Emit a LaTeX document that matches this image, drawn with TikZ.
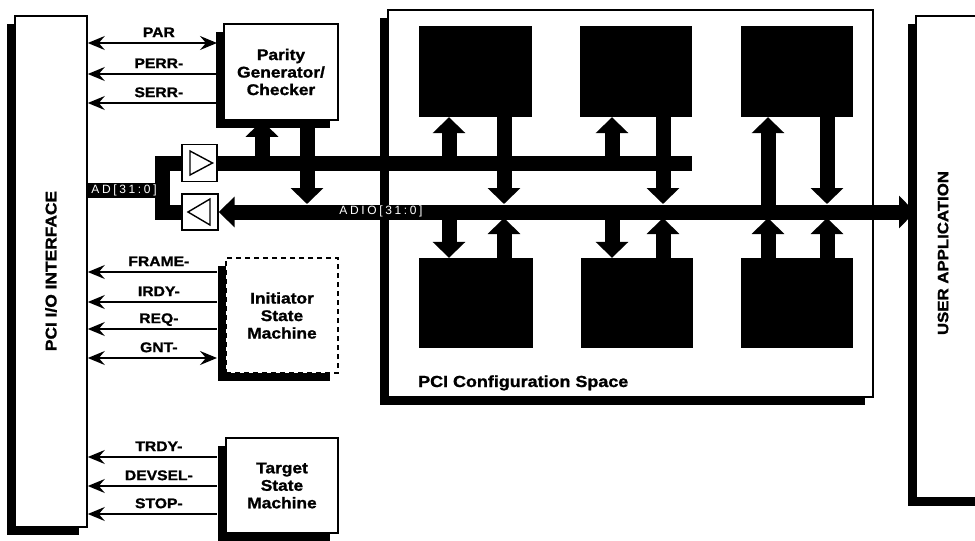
\documentclass[tikz,border=0pt]{standalone}
\usepackage{fontspec}
\setmainfont{Liberation Sans}[FakeStretch=1.12, BoldFeatures={FakeBold=1.3}]
\newfontfamily\busfont{Liberation Sans}[LetterSpace=22]
\usetikzlibrary{arrows.meta,shadows}
\begin{document}
\begin{tikzpicture}[x=1pt,y=-1pt,
  box/.style={draw, line width=1.6pt, fill=white, inner sep=0pt, align=center},
  shad/.style={general shadow={fill=black, shadow xshift=-8pt, shadow yshift=-8pt}},
  blk/.style={fill=black, inner sep=0pt},
  lab/.style={font=\fontsize{15.5}{17.5}\selectfont\bfseries},
  sig/.style={line width=1.7pt, -{Stealth[length=17pt,width=14pt,inset=6pt]}},
  sigd/.style={line width=1.7pt, {Stealth[length=17pt,width=14pt,inset=6pt]}-{Stealth[length=17pt,width=14pt,inset=6pt]}},
  siglab/.style={font=\fontsize{14}{16}\selectfont\bfseries, inner sep=0pt, text depth=0pt, above=5pt, pos=0.45},
  bus/.style={line width=15pt, line join=miter},
  vup/.style={line width=15pt, -{Triangle[length=16pt,width=32pt]}},
  lbus/.style={line width=15pt, {Triangle[length=16pt,width=30pt]}-{Triangle[length=16pt,width=32pt]}},
  buslab/.style={text=white, font=\busfont\fontsize{12}{14}\selectfont, inner sep=0pt}
]
\useasboundingbox (0,0) rectangle (975,541);
\clip (0,0) rectangle (975,541);

% main boxes
\node[box, shad, minimum width=485pt, minimum height=387pt] (cfg) at (630.5,203.5) {};
\node[font=\fontsize{16}{18}\selectfont\bfseries, anchor=base west, inner sep=0pt] (cfglab) at (418,387) {PCI Configuration Space};
\node[box, shad, minimum width=72pt, minimum height=511pt] (pci) at (51,271.5) {};
\node[rotate=90, font=\fontsize{15.5}{17}\selectfont\bfseries] (pcilab) at (51,271) {PCI I/O INTERFACE};
\node[box, shad, minimum width=90pt, minimum height=482pt, anchor=north west] (usr) at (915,15) {};
\node[rotate=90, font=\fontsize{15}{17}\selectfont\bfseries] (usrlab) at (943,253) {USER APPLICATION};

\node[box, shad, lab, minimum width=114pt, minimum height=96pt] (par) at (281,72) {Parity\\Generator/\\Checker};
\node[box, shad, lab, dash pattern=on 5pt off 4pt, minimum width=112pt, minimum height=115pt] (ism) at (282,315.5) {Initiator\\State\\Machine};
\node[box, shad, lab, minimum width=112pt, minimum height=95pt] (tsm) at (282,485.5) {Target\\State\\Machine};

% configuration blocks
\node[blk, minimum width=113pt, minimum height=91pt] (t1) at (475.5,71.5) {};
\node[blk, minimum width=112pt, minimum height=91pt] (t2) at (636,71.5) {};
\node[blk, minimum width=112pt, minimum height=91pt] (t3) at (797,71.5) {};
\node[blk, minimum width=114pt, minimum height=90pt] (b1) at (476,303) {};
\node[blk, minimum width=112pt, minimum height=90pt] (b2) at (637,303) {};
\node[blk, minimum width=112pt, minimum height=90pt] (b3) at (797,303) {};

% buffers
\node[box, line width=1.4pt, minimum width=35pt, minimum height=37pt] (bufo) at (199.5,163) {};
\node[box, line width=1.4pt, minimum width=36pt, minimum height=36pt] (bufi) at (200,212) {};
\draw[line width=1.4pt, line join=miter] ([shift={(-9.5,-12)}]bufo.center) -- ([shift={(13,0)}]bufo.center) -- ([shift={(-9.5,12)}]bufo.center) -- cycle;
\draw[line width=1.4pt, line join=miter] ([shift={(10,-13)}]bufi.center) -- ([shift={(-12,0)}]bufi.center) -- ([shift={(10,13)}]bufi.center) -- cycle;

% coordinates
\coordinate (ub) at (0,163);
\coordinate (lb) at (0,211);
\coordinate (lbt) at (0,204);
\coordinate (lbb) at (0,218);
\coordinate (adv) at (162.5,190);
\coordinate (c1a) at (449,0);
\coordinate (c1b) at (504,0);
\coordinate (c2a) at (612,0);
\coordinate (c2b) at (663,0);
\coordinate (c3a) at (768,0);
\coordinate (c3b) at (827,0);
\coordinate (pa) at (262,0);
\coordinate (pb) at (307,0);

% buses
\draw[bus] (pci.east |- adv) -- (adv);
\draw[bus] (bufo.west) -| (adv) |- (bufi.west);
\draw[bus] (bufo.east) -- (t2.east |- bufo.east);
\draw[lbus] (bufi.east) -- (usr.west |- bufi.east);

% parity arrows
\draw[vup] (pa |- ub) -- (pa |- par.south);
\draw[vup] (pb |- par.south) -- (pb |- lbt);

% top row arrows
\draw[vup] (c1a |- ub) -- (c1a |- t1.south);
\draw[vup] (c1b |- t1.south) -- (c1b |- lbt);
\draw[vup] (c2a |- ub) -- (c2a |- t2.south);
\draw[vup] (c2b |- t2.south) -- (c2b |- lbt);
\draw[vup] (c3a |- lb) -- (c3a |- t3.south);
\draw[vup] (c3b |- t3.south) -- (c3b |- lbt);
% bottom row arrows
\draw[vup] (c1a |- lb) -- (c1a |- b1.north);
\draw[vup] (c1b |- b1.north) -- (c1b |- lbb);
\draw[vup] (c2a |- lb) -- (c2a |- b2.north);
\draw[vup] (c2b |- b2.north) -- (c2b |- lbb);
\draw[vup] (c3a |- b3.north) -- (c3a |- lbb);
\draw[vup] (c3b |- b3.north) -- (c3b |- lbb);

% bus labels
\node[buslab] (adlab) at (124,190) {AD[31:0]};
\node[buslab] (adiolab) at (381,211) {ADIO[31:0]};

% signal lines
\coordinate (sPAR) at (217,43);
\coordinate (sPERR) at (217,74);
\coordinate (sSERR) at (217,103);
\coordinate (sFRAME) at (217,272);
\coordinate (sIRDY) at (217,302);
\coordinate (sREQ) at (217,329);
\coordinate (sGNT) at (217,358);
\coordinate (sTRDY) at (217,457);
\coordinate (sDEVSEL) at (217,486);
\coordinate (sSTOP) at (217,514);

\draw[sigd] (sPAR) -- (pci.east |- sPAR) node[siglab] {PAR};
\draw[sig] (sPERR) -- (pci.east |- sPERR) node[siglab] {PERR-};
\draw[sig] (sSERR) -- (pci.east |- sSERR) node[siglab] {SERR-};
\draw[sig] (sFRAME) -- (pci.east |- sFRAME) node[siglab] {FRAME-};
\draw[sig] (sIRDY) -- (pci.east |- sIRDY) node[siglab] {IRDY-};
\draw[sig] (sREQ) -- (pci.east |- sREQ) node[siglab] {REQ-};
\draw[sigd] (sGNT) -- (pci.east |- sGNT) node[siglab] {GNT-};
\draw[sig] (sTRDY) -- (pci.east |- sTRDY) node[siglab] {TRDY-};
\draw[sig] (sDEVSEL) -- (pci.east |- sDEVSEL) node[siglab] {DEVSEL-};
\draw[sig] (sSTOP) -- (pci.east |- sSTOP) node[siglab] {STOP-};
\end{tikzpicture}
\end{document}
